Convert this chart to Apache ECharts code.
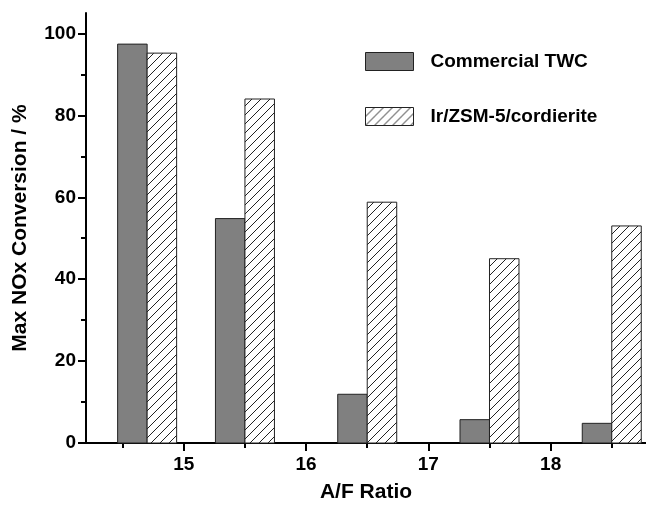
<!DOCTYPE html>
<html>
<head>
<meta charset="UTF-8">
<title>NOx conversion</title>
<style type="text/css">
html, body {
	width: 100%;
	height: 100%;
	padding: 0px;
	margin: 0px;
	background: #fff;
}
</style>
<script src="https://cdn.jsdelivr.net/npm/echarts@6/dist/echarts.min.js"></script>
</head>
<body>
	<div id="chart" style="width: 646px; height: 506px;"></div>

	<script type="text/javascript">
        // A/F ratio of each bar pair (first pair sits at stoichiometric 14.7)
        var afRatio = [14.7, 15.5, 16.5, 17.5, 18.5];
        // max NOx conversion, %
        var twcValues = [97.4, 54.8, 11.9, 5.7, 4.8];
        var irValues = [95.2, 84.0, 58.8, 45.0, 53.0];
        // tick labels
        var xTicks = [15, 16, 17, 18];
        var xMinorTicks = [14.5, 15.5, 16.5, 17.5, 18.5];
        var yTicks = [0, 20, 40, 60, 80, 100];
        var yMinorTicks = [10, 30, 50, 70, 90];

        var FONT = '"Liberation Sans", Arial, Helvetica, sans-serif';

        // hatch pattern ////
        function makeHatch() {
            var c = document.createElement('canvas');
            c.width = 9; c.height = 9;
            var ctx = c.getContext('2d');
            ctx.fillStyle = '#fff';
            ctx.fillRect(0, 0, 9, 9);
            ctx.strokeStyle = '#222';
            ctx.lineWidth = 1;
            ctx.beginPath();
            ctx.moveTo(-1, 10); ctx.lineTo(10, -1);
            ctx.moveTo(-1, 1); ctx.lineTo(1, -1);
            ctx.moveTo(8, 10); ctx.lineTo(10, 8);
            ctx.stroke();
            return c;
        }
        var hatch = { image: makeHatch(), repeat: 'repeat' };

        function pairData(vals) {
            return afRatio.map(function (x, i) { return [x, vals[i]]; });
        }

        // side: -1 = left of the A/F position, +1 = right
        function barRenderer(side) {
            return function (params, api) {
                var x = api.value(0);
                var base = api.coord([x, 0]);
                var top = api.coord([x, api.value(1)]);
                var w = 29.5;
                return {
                    type: 'rect',
                    shape: { x: side < 0 ? base[0] - w : base[0], y: top[1], width: w, height: base[1] - top[1] },
                    style: api.style()
                };
            };
        }

        var myChart = echarts.init(document.getElementById('chart'));

        var axisLine = { show: true, lineStyle: { color: '#000', width: 2 } };
        var labelStyle = { color: '#000', fontFamily: FONT, fontWeight: 'bold', fontSize: 19 };

        myChart.setOption({
            animation: false,
            backgroundColor: '#fff',
            grid: { left: 86, right: 0, top: 13, bottom: 63, containLabel: false, outerBoundsMode: 'none' },
            legend: {
                orient: 'vertical',
                left: 365,
                top: 52,
                padding: 0,
                itemWidth: 48,
                itemHeight: 18,
                itemGap: 36,
                icon: 'rect',
                textStyle: { color: '#000', fontFamily: FONT, fontWeight: 'bold', fontSize: 19, padding: [0, 0, 0, 12] },
                data: [
                    { name: 'Commercial TWC', itemStyle: { color: '#808080', borderColor: '#222', borderWidth: 1 } },
                    { name: 'Ir/ZSM-5/cordierite', itemStyle: { color: hatch, borderColor: '#222', borderWidth: 1 } }
                ]
            },
            xAxis: [{
                type: 'value',
                min: 14.2,
                max: 18.78,
                name: 'A/F Ratio',
                nameLocation: 'middle',
                nameGap: 39,
                nameTextStyle: { color: '#000', fontFamily: FONT, fontWeight: 'bold', fontSize: 21 },
                axisLine: axisLine,
                axisTick: { show: true, inside: false, length: 8, customValues: xTicks, lineStyle: { color: '#000', width: 2 } },
                axisLabel: Object.assign({ margin: 12, customValues: xTicks }, labelStyle),
                splitLine: { show: false }
            }, {
                type: 'value',
                min: 14.2,
                max: 18.78,
                position: 'bottom',
                axisLine: { show: false },
                axisTick: { show: true, length: 5, customValues: xMinorTicks, lineStyle: { color: '#000', width: 2 } },
                axisLabel: { show: false },
                splitLine: { show: false }
            }],
            yAxis: [{
                type: 'value',
                min: 0,
                max: 105,
                name: 'Max NOx Conversion / %',
                nameLocation: 'middle',
                nameGap: 55,
                nameTextStyle: { color: '#000', fontFamily: FONT, fontWeight: 'bold', fontSize: 21 },
                axisLine: axisLine,
                axisTick: { show: true, inside: false, length: 8, customValues: yTicks, lineStyle: { color: '#000', width: 2 } },
                axisLabel: Object.assign({ margin: 10, customValues: yTicks }, labelStyle),
                splitLine: { show: false }
            }, {
                type: 'value',
                min: 0,
                max: 105,
                position: 'left',
                axisLine: { show: false },
                axisTick: { show: true, length: 5, customValues: yMinorTicks, lineStyle: { color: '#000', width: 2 } },
                axisLabel: { show: false },
                splitLine: { show: false }
            }],
            series: [{
                name: 'Commercial TWC',
                type: 'custom',
                renderItem: barRenderer(-1),
                itemStyle: { color: '#808080', borderColor: '#222', borderWidth: 1 },
                encode: { x: 0, y: 1 },
                data: pairData(twcValues)
            }, {
                name: 'Ir/ZSM-5/cordierite',
                type: 'custom',
                renderItem: barRenderer(1),
                itemStyle: { color: hatch, borderColor: '#222', borderWidth: 1 },
                encode: { x: 0, y: 1 },
                data: pairData(irValues)
            }]
        });
	</script>
</body>
</html>
